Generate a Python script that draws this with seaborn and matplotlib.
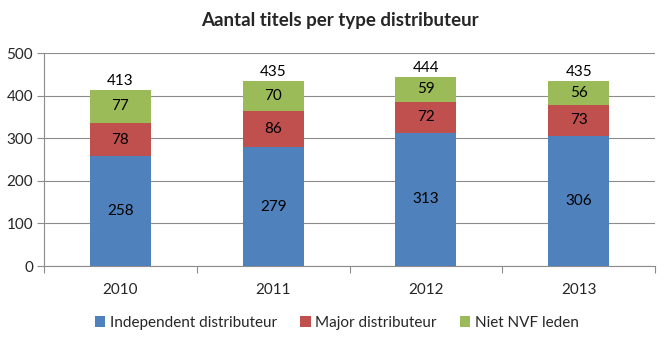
import matplotlib
matplotlib.use("Agg")
import matplotlib.pyplot as plt
import seaborn as sns
import numpy as np
import pandas as pd
from matplotlib.ticker import FixedLocator
from matplotlib.patches import Patch

years = ["2010", "2011", "2012", "2013"]
independent = [258, 279, 313, 306]
major = [78, 86, 72, 73]
niet_nvf = [77, 70, 59, 56]
totals = [413, 435, 444, 435]
series_names = ["Independent distributeur", "Major distributeur", "Niet NVF leden"]
colors = ["#4F81BD", "#C0504D", "#9BBB59"]

sns.set_theme(style="white")
plt.rcParams["font.family"] = ["Lato", "DejaVu Sans"]

fig = plt.figure(figsize=(6.67, 3.42), dpi=100)
ax = fig.add_axes([0.066, 0.222, 0.916, 0.623])

df = pd.DataFrame({"year": years, "ind": independent, "maj": major, "niet": niet_nvf})
df["c1"] = df["ind"]
df["c2"] = df["ind"] + df["maj"]
df["c3"] = df["c2"] + df["niet"]

for col, c in zip(["c3", "c2", "c1"], colors[::-1]):
    sns.barplot(data=df, x="year", y=col, color=c, width=0.4, ax=ax,
                saturation=1, edgecolor="none", zorder=3)

fs = 11
for i in range(len(years)):
    ax.text(i, independent[i] / 2, str(independent[i]), ha="center", va="center", fontsize=fs, color="black", zorder=5)
    ax.text(i, independent[i] + major[i] / 2, str(major[i]), ha="center", va="center", fontsize=fs, color="black", zorder=5)
    ax.text(i, independent[i] + major[i] + niet_nvf[i] / 2, str(niet_nvf[i]), ha="center", va="center", fontsize=fs, color="black", zorder=5)
    ax.text(i, totals[i] + 5, str(totals[i]), ha="center", va="bottom", fontsize=fs, color="black", zorder=5)

ax.set_ylim(0, 500)
ax.set_xlim(-0.5, 3.5)
ax.set_yticks([0, 100, 200, 300, 400, 500])
ax.yaxis.grid(True, color="#8c8c8c", linewidth=0.8, zorder=0)
ax.set_axisbelow(True)
ax.set_xlabel("")
ax.set_ylabel("")

for s in ["top", "right"]:
    ax.spines[s].set_visible(False)
ax.spines["left"].set_color("#8c8c8c")
ax.spines["bottom"].set_color("#8c8c8c")
ax.spines["left"].set_linewidth(0.8)
ax.spines["bottom"].set_linewidth(0.8)

ax.tick_params(axis="y", which="major", length=5, width=0.8, color="#8c8c8c", labelsize=fs, pad=3, left=True)
ax.tick_params(axis="x", which="major", length=0, labelsize=fs, pad=12)
ax.xaxis.set_minor_locator(FixedLocator([-0.5, 0.5, 1.5, 2.5, 3.5]))
ax.tick_params(axis="x", which="minor", length=5, width=0.8, color="#8c8c8c", bottom=True)

fig.text(0.51, 0.94, "Aantal titels per type distributeur", fontsize=13.5, fontweight="bold",
         ha="center", va="center")

handles = [Patch(facecolor=c, edgecolor="none") for c in colors]
fig.legend(handles, series_names, loc="lower center", bbox_to_anchor=(0.505, -0.005), ncol=3,
           frameon=False, fontsize=fs, handlelength=0.7, handleheight=0.7, columnspacing=1.5,
           handletextpad=0.3)

fig.savefig("out.png", dpi=100)
